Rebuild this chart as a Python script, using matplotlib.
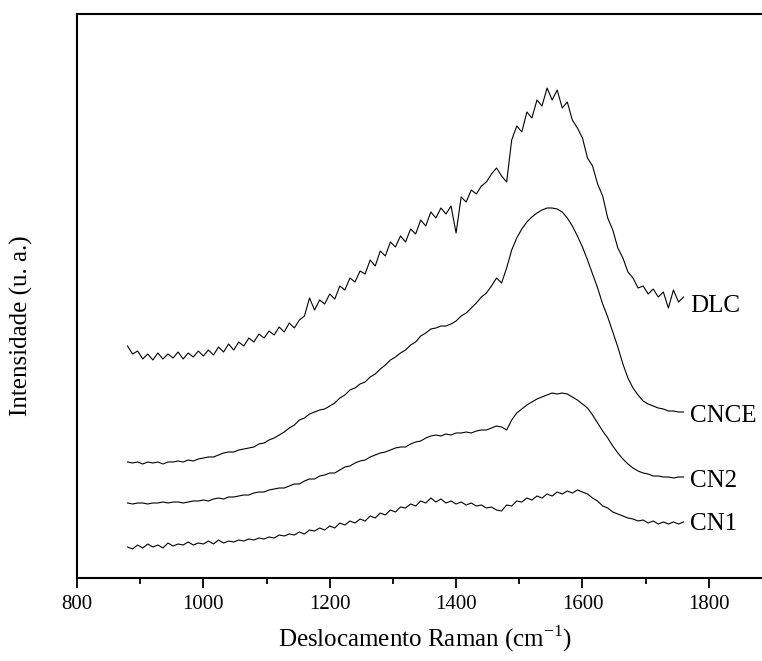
import matplotlib
matplotlib.use('Agg')
import matplotlib.pyplot as plt
import numpy as np

plt.rcParams['font.family'] = ['Liberation Serif', 'DejaVu Serif']
plt.rcParams['mathtext.fontset'] = 'custom'
plt.rcParams['mathtext.rm'] = 'Liberation Serif'

# Raman shift grid (cm-1)
raman = np.arange(880, 1761, 8)

# intensities (a.u., already offset for stacking)
dlc = [232, 224, 227, 219, 224, 218, 225, 219, 224, 220,
       226, 219, 225, 221, 227, 222, 228, 223, 231, 226,
       234, 228, 236, 232, 240, 236, 244, 240, 247, 243,
       251, 246, 255, 250, 258, 262, 280, 268, 278, 274,
       284, 279, 292, 288, 300, 296, 307, 304, 318, 312,
       327, 322, 336, 331, 342, 336, 349, 344, 358, 352,
       366, 360, 370, 364, 372, 345, 381, 376, 388, 384,
       392, 396, 404, 410, 402, 396, 438, 452, 446, 466,
       460, 478, 472, 490, 478, 488, 470, 476, 458, 450,
       440, 420, 412, 394, 382, 360, 348, 330, 320, 306,
       300, 290, 292, 284, 289, 281, 286, 270, 288, 276,
       281]

cnce = [116, 115, 116, 114, 116, 115, 116, 114, 116, 116,
        117, 116, 118, 117, 119, 120, 121, 121, 123, 125,
        126, 126, 128, 129, 130, 131, 134, 135, 138, 140,
        143, 146, 150, 153, 158, 160, 164, 166, 168, 169,
        172, 175, 180, 183, 188, 190, 194, 196, 201, 204,
        209, 213, 218, 221, 225, 228, 233, 236, 242, 245,
        249, 250, 252, 252, 254, 257, 262, 265, 270, 275,
        281, 285, 292, 300, 295, 310, 328, 340, 349, 356,
        361, 365, 368, 370, 370, 369, 366, 360, 352, 342,
        331, 318, 304, 290, 274, 261, 246, 231, 214, 200,
        190, 183, 177, 174, 172, 170, 169, 167, 167, 166,
        166]

cn2 = [75, 74, 75, 75, 74, 75, 75, 76, 75, 76,
       76, 75, 76, 77, 77, 78, 77, 79, 80, 79,
       81, 81, 82, 83, 83, 85, 86, 86, 88, 89,
       90, 90, 92, 94, 94, 97, 99, 99, 102, 103,
       105, 105, 108, 111, 112, 115, 117, 118, 121, 123,
       125, 126, 128, 130, 131, 131, 134, 136, 137, 140,
       142, 143, 142, 144, 143, 145, 145, 146, 145, 147,
       148, 148, 150, 152, 151, 148, 158, 165, 169, 173,
       176, 179, 181, 183, 185, 184, 185, 184, 181, 178,
       174, 170, 163, 155, 147, 140, 132, 125, 119, 114,
       110, 107, 105, 104, 102, 102, 101, 101, 100, 101,
       101]

cn1 = [31, 29, 33, 30, 34, 31, 33, 30, 35, 32,
       34, 33, 36, 33, 35, 34, 37, 34, 38, 35,
       37, 36, 38, 37, 39, 38, 40, 39, 41, 40,
       43, 42, 44, 43, 46, 44, 48, 47, 50, 48,
       52, 50, 55, 53, 57, 55, 59, 57, 62, 60,
       65, 63, 68, 66, 71, 70, 74, 72, 77, 75,
       80, 76, 79, 75, 77, 74, 76, 73, 75, 72,
       73, 70, 71, 68, 67, 73, 72, 77, 76, 80,
       78, 82, 80, 84, 82, 86, 84, 87, 85, 88,
       86, 84, 80, 77, 72, 70, 66, 64, 62, 60,
       59, 57, 58, 55, 57, 54, 56, 54, 56, 54,
       56]

series = [dlc, cnce, cn2, cn1]
names = ['DLC', 'CNCE', 'CN2', 'CN1']
label_y = [266, 156, 91, 48]

fig = plt.figure(figsize=(7.62, 6.61), dpi=100)
ax = fig.add_axes([77/762, 83/661, 695/762, 564/661])

for y, nome, ly in zip(series, names, label_y):
    ax.plot(raman, y, color='black', lw=0.8)
    ax.text(1770, ly, nome, fontsize=18, va='baseline', ha='left')

ax.set_xlim(800, 1900)
ax.set_ylim(0, 564)
ax.set_xticks([800, 1000, 1200, 1400, 1600, 1800])
ax.set_xticks(np.arange(900, 1900, 200), minor=True)
ax.set_yticks([])
ax.tick_params(axis='x', which='major', direction='out', length=7, width=1.3,
               labelsize=15, pad=5)
ax.tick_params(axis='x', which='minor', direction='out', length=4, width=1.3)
for s in ax.spines.values():
    s.set_linewidth(1.5)

ax.set_xlabel(r'Deslocamento Raman (cm$^{\mathregular{-1}}$)', fontsize=18, labelpad=7)
ax.set_ylabel('Intensidade (u. a.)', fontsize=18)
ax.yaxis.set_label_coords(-0.064, 0.447)

plt.savefig('out.png', dpi=100)
